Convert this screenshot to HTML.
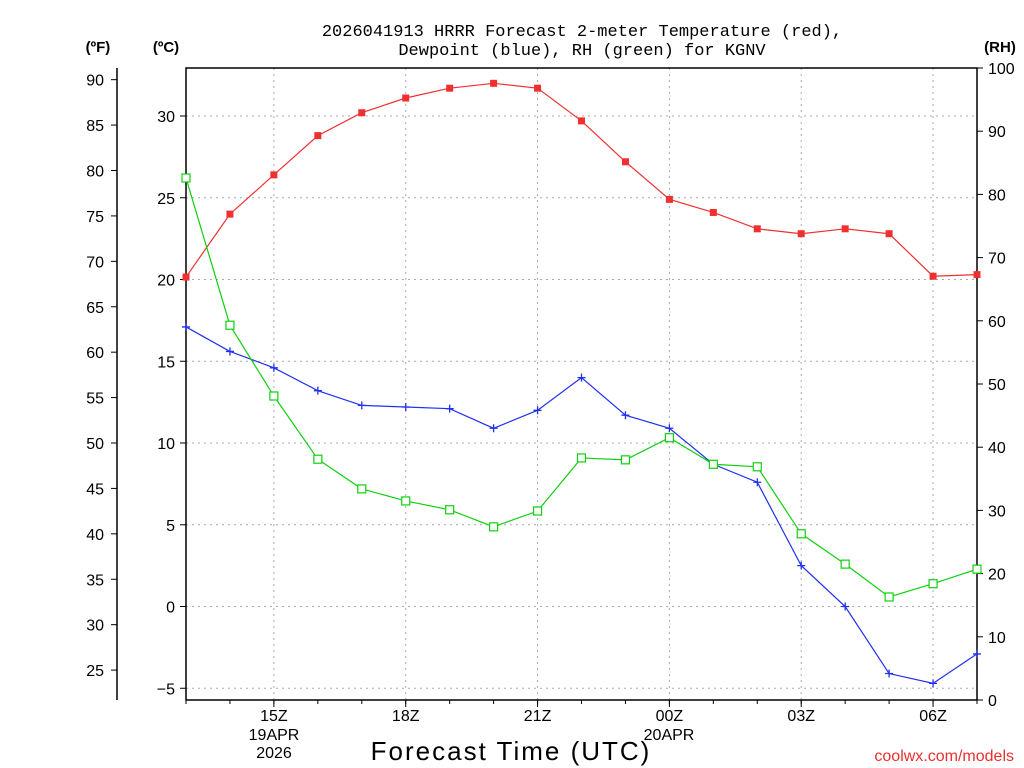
<!DOCTYPE html>
<html><head><meta charset="utf-8"><style>
body{margin:0;background:#fff;}
svg{display:block;font-family:"Liberation Sans","DejaVu Sans",sans-serif;}
</style></head><body>
<svg id="chart" width="1024" height="768">
<text x="582" y="36" font-size="17" text-anchor="middle" font-family="'Liberation Mono',monospace">2026041913 HRRR Forecast 2-meter Temperature (red),</text>
<text x="582" y="55" font-size="17" text-anchor="middle" font-family="'Liberation Mono',monospace">Dewpoint (blue), RH (green) for KGNV</text>
<text x="98" y="52" font-size="15" font-weight="bold" text-anchor="middle">(ºF)</text>
<text x="166" y="52" font-size="15" font-weight="bold" text-anchor="middle">(ºC)</text>
<text x="1000" y="52" font-size="15" font-weight="bold" text-anchor="middle">(RH)</text>
<text x="511" y="760" font-size="26" letter-spacing="2" text-anchor="middle">Forecast Time (UTC)</text>
<text x="1014" y="761" font-size="16" fill="#e83030" text-anchor="end">coolwx.com/models</text>
<g id="grid"></g><g id="axes"></g><g id="series"></g>
</svg>
<script>
const hours = [13,14,15,16,17,18,19,20,21,22,23,24,25,26,27,28,29,30,31];
const tempC = [20.15,24.0,26.4,28.8,30.2,31.1,31.7,32.0,31.7,29.7,27.2,24.9,24.1,23.1,22.8,23.1,22.8,20.2,20.3];
const dewC = [17.1,15.6,14.6,13.2,12.3,12.2,12.1,10.9,12.0,14.0,11.7,10.9,8.7,7.6,2.5,0.0,-4.1,-4.7,-2.9];
const rh = [82.6,59.3,48.1,38.1,33.4,31.5,30.1,27.4,29.9,38.3,38.0,41.5,37.3,36.9,26.3,21.5,16.3,18.4,20.7];
const cTicks = [-5,0,5,10,15,20,25,30];
const fTicks = [25,30,35,40,45,50,55,60,65,70,75,80,85,90];
const rhTicks = [0,10,20,30,40,50,60,70,80,90,100];
const xTickHours = [15,18,21,24,27,30];
const xTickLabels = ["15Z","18Z","21Z","00Z","03Z","06Z"];

const NS="http://www.w3.org/2000/svg";
const L=186,R=977,T=68,B=700;
const x=h=>L+(h-13)*(R-L)/18;
const yC=c=>606.5-c*16.35;
const yF=f=>yC((f-32)*5/9);
const yR=v=>B-v*(B-T)/100;
function mk(tag,attrs,parent,text){const e=document.createElementNS(NS,tag);for(const k in attrs)e.setAttribute(k,attrs[k]);if(text!==undefined)e.textContent=text;parent.appendChild(e);return e;}
const grid=document.getElementById('grid'),axes=document.getElementById('axes'),ser=document.getElementById('series');
cTicks.forEach(c=>{const g=mk('line',{x1:L,x2:R,y1:yC(c),y2:yC(c),stroke:'#aaa','stroke-dasharray':'2,4'},grid);

const t=mk('text',{x:175,y:yC(c)+6,'font-size':16,'text-anchor':'end'},axes,c<0?'\u2212'+(-c):String(c));

mk('line',{x1:L-6,x2:L,y1:yC(c),y2:yC(c),stroke:'#000'},axes);});
xTickHours.forEach((h,i)=>{const g=mk('line',{x1:x(h),x2:x(h),y1:T,y2:B,stroke:'#aaa','stroke-dasharray':'2,4'},grid);

mk('line',{x1:x(h),x2:x(h),y1:B,y2:B+7,stroke:'#000'},axes);
const t=mk('text',{x:x(h),y:721,'font-size':16,'text-anchor':'middle'},axes,xTickLabels[i]);
});
hours.forEach(h=>mk('line',{x1:x(h),x2:x(h),y1:B,y2:B+4,stroke:'#000'},axes));
[["19APR",274,740],["2026",274,758],["20APR",669,740]].forEach(d=>{const t=mk('text',{x:d[1],y:d[2],'font-size':16,'text-anchor':'middle'},axes,d[0]);
});
fTicks.forEach(f=>{mk('line',{x1:111,x2:117,y1:yF(f),y2:yF(f),stroke:'#000'},axes);
const t=mk('text',{x:104,y:yF(f)+6,'font-size':16,'text-anchor':'end'},axes,String(f));
});
rhTicks.forEach(v=>{mk('line',{x1:R,x2:R+6,y1:yR(v),y2:yR(v),stroke:'#000'},axes);
const t=mk('text',{x:988,y:yR(v)+6,'font-size':16},axes,String(v));
});
mk('line',{x1:117,x2:117,y1:T,y2:B,stroke:'#000','stroke-width':1.5},axes);
const box=mk('rect',{x:L,y:T,width:R-L,height:B-T,fill:'none',stroke:'#000','stroke-width':1.5},axes);

function series(vals,yf,color,marker,name){
const pts=vals.map((v,i)=>x(hours[i])+','+yf(v)).join(' ');
const pl=mk('polyline',{points:pts,fill:'none',stroke:color,'stroke-width':1.2},ser);

vals.forEach((v,i)=>{const cx=x(hours[i]),cy=yf(v);let m;
if(marker==='fill')m=mk('rect',{x:cx-3.5,y:cy-3.5,width:7,height:7,fill:color},ser);
else if(marker==='open')m=mk('rect',{x:cx-4,y:cy-4,width:8,height:8,fill:'#fff',stroke:color,'stroke-width':1.2},ser);
else m=mk('path',{d:`M${cx-4},${cy}H${cx+4}M${cx},${cy-4}V${cy+4}`,stroke:color,'stroke-width':1.3},ser);
});}
series(tempC,yC,'#f03030','fill','temperature');
series(dewC,yC,'#2030f0','plus','dewpoint');
series(rh,yR,'#10d010','open','rh');
</script>
</body></html>
